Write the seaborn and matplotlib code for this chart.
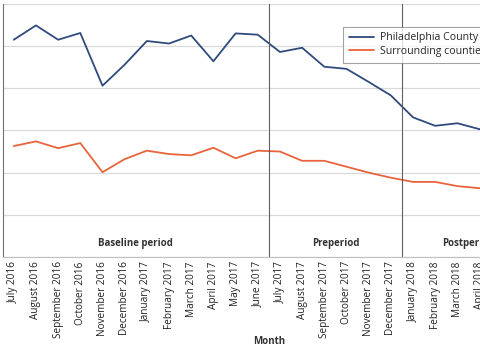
import matplotlib

matplotlib.use("Agg")
import matplotlib.pyplot as plt
import pandas as pd
import seaborn as sns

months = [
    "July 2016", "August 2016", "September 2016", "October 2016",
    "November 2016", "December 2016", "January 2017", "February 2017",
    "March 2017", "April 2017", "May 2017", "June 2017",
    "July 2017", "August 2017", "September 2017", "October 2017",
    "November 2017", "December 2017", "January 2018", "February 2018",
    "March 2018", "April 2018", "May 2018", "June 2018",
]
philadelphia = [
    51.5, 54.9, 51.5, 53.1, 40.6, 45.6, 51.2, 50.6, 52.5, 46.4, 53.0, 52.7,
    48.6, 49.6, 45.1, 44.6, 41.5, 38.3, 33.1, 31.1, 31.7, 30.3, 30.0, 29.6,
]
surrounding = [
    26.3, 27.4, 25.8, 27.0, 20.1, 23.2, 25.2, 24.4, 24.1, 25.9, 23.4, 25.2,
    25.0, 22.8, 22.8, 21.4, 20.0, 18.8, 17.8, 17.8, 16.8, 16.3, 16.0, 15.8,
]
series_names = ["Philadelphia County", "Surrounding counties"]
periods = ["Baseline period", "Preperiod", "Postperiod"]
period_bounds = [(-0.5, 11.5), (11.5, 17.5), (17.5, 23.5)]

data = pd.DataFrame(
    {
        "idx": list(range(len(months))) * 2,
        "value": philadelphia + surrounding,
        "series": [series_names[0]] * len(months) + [series_names[1]] * len(months),
    }
)

sns.set_style("white")
plt.rcParams["font.family"] = ["Open Sans", "DejaVu Sans"]

fig = plt.figure(figsize=(4.8, 3.53), dpi=100)
# the reference is a crop of a wider chart, so the axes run past the right edge
ax = fig.add_axes([0.0056, 0.272, 1.109, 0.717])

sns.lineplot(
    data=data,
    x="idx",
    y="value",
    hue="series",
    palette=["#2F4A7C", "#E8643C"],
    linewidth=1.3,
    ax=ax,
)

ax.set_xlim(-0.5, len(months) - 0.5)
ax.set_ylim(0, 60)
ax.set_yticks(range(0, 61, 10))
ax.set_yticklabels([])
ax.tick_params(axis="y", length=0)
ax.yaxis.grid(True, color="#D9D9D9", linewidth=0.9)
ax.set_axisbelow(True)

# boundary ticks below the axis, labels at month centres
ax.set_xticks([i - 0.5 for i in range(len(months) + 1)])
ax.set_xticklabels([])
ax.tick_params(axis="x", which="major", length=3.5, color="#A0A0A0", width=0.8)
ax.set_xticks(range(len(months)), minor=True)
ax.set_xticklabels(months, minor=True, rotation=90, fontsize=7.2, color="#222222")
ax.tick_params(axis="x", which="minor", length=0, pad=3)

for side in ["top", "right"]:
    ax.spines[side].set_visible(False)
ax.spines["left"].set_color("#707070")
ax.spines["bottom"].set_color("#C0C0C0")

for bound in [11.5, 17.5]:
    ax.axvline(bound, color="#606060", linewidth=0.8)

for name, (lo, hi) in zip(periods, period_bounds):
    ax.text((lo + hi) / 2, 3.3, name, ha="center", va="center",
            fontsize=7, fontweight="bold", color="#333333")

ax.set_xlabel("Month", fontsize=7, fontweight="bold", color="#333333", va="center")
ax.xaxis.set_label_coords(0.5, -0.332)
ax.set_ylabel("")

leg = ax.legend(
    loc="upper left",
    bbox_to_anchor=(0.639, 0.91),
    borderaxespad=0,
    fontsize=7.6,
    frameon=True,
    fancybox=False,
    handlelength=2.4,
    handletextpad=0.6,
    labelspacing=0.25,
    borderpad=0.55,
    title=None,
)
leg.get_frame().set_edgecolor("#8C8C8C")
leg.get_frame().set_linewidth(0.8)

fig.savefig("out.png", dpi=100)
